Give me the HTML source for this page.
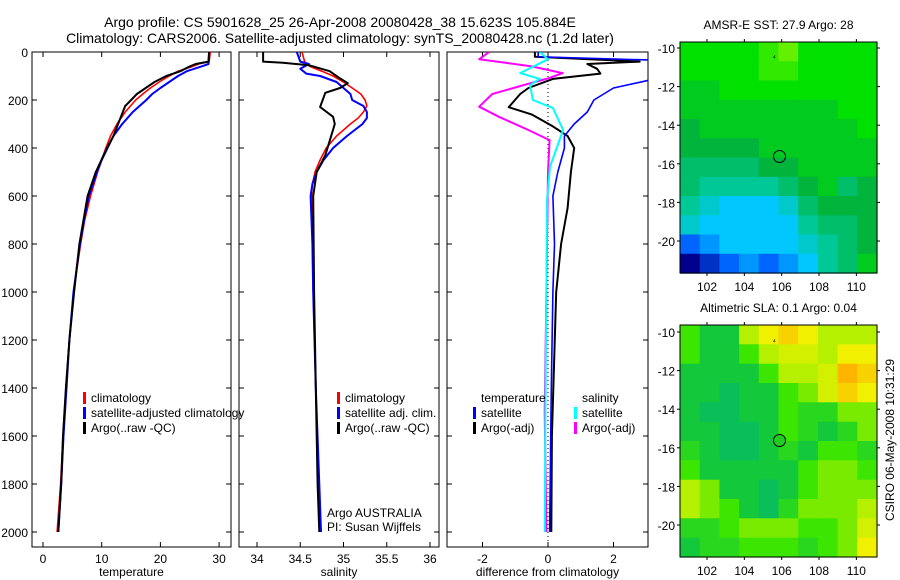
<!DOCTYPE html>
<html><head><meta charset="utf-8">
<style>
html,body{margin:0;padding:0;background:#fff;}
svg{display:block;font-family:"Liberation Sans",sans-serif;}
</style></head>
<body>
<svg id="fig" width="900" height="580" viewBox="0 0 900 580">
<text x="340" y="27" font-size="14" text-anchor="middle">Argo profile: CS 5901628_25 26-Apr-2008 20080428_38 15.623S 105.884E</text>
<text x="340" y="43" font-size="14" text-anchor="middle">Climatology: CARS2006. Satellite-adjusted climatology: synTS_20080428.nc (1.2d later)</text>
<g id="g"></g>
</svg>
<script>
// ---- data ----
const depthTicks=[0,200,400,600,800,1000,1200,1400,1600,1800,2000];
const tempTicks=[0,10,20,30];
const salTicks=[34,34.5,35,35.5,36];
const diffTicks=[-2,0,2];
const latTicks=[-10,-12,-14,-16,-18,-20];
const lonTicks=[102,104,106,108,110];

const tClimDepth=[0,40,50,60,80,100,125,150,175,200,250,300,350,400,450,500,600,700,800,1000,1200,1400,1600,1800,2000];
const tClim=[28.5,28.3,26.5,25.5,23,21.5,19.8,18.3,17.0,15.8,14,12.6,11.5,10.7,10,9.3,8.1,7.1,6.4,5.2,4.5,3.9,3.4,3.0,2.4];
const tSatDepth=[0,50,60,80,100,125,150,175,200,250,300,350,400,450,500,600,700,800,1000,1200,1400,1600,1800,2000];
const tSat=[28.3,28.2,27,24.5,23,21.5,20,18.6,17.6,15.3,13.5,12,11,10,9.2,7.8,7.0,6.3,5.2,4.5,4.0,3.5,3.1,2.6];
const tArgoDepth=[0,40,50,60,80,100,125,150,175,200,225,250,300,350,400,500,600,800,1000,1200,1400,1600,1800,2000];
const tArgo=[28.3,28.2,26,25,23.4,21,19,17.5,16,15,14,13.6,12.8,12,10.9,9.0,7.6,6.2,5.3,4.5,3.9,3.4,3.1,2.6];

const sClimDepth=[0,40,60,80,100,125,150,175,200,225,250,275,300,350,400,450,500,550,600,800,1000,1400,1800,2000];
const sClim=[34.52,34.55,34.61,34.75,34.88,35.0,35.1,35.2,35.25,35.27,35.23,35.17,35.08,34.92,34.8,34.73,34.67,34.64,34.63,34.64,34.65,34.68,34.71,34.72];
const sSatDepth=[0,40,50,70,90,100,125,150,175,200,225,250,275,300,350,400,450,500,550,600,800,1000,1400,1800,2000];
const sSat=[34.46,34.5,34.6,34.5,34.57,34.73,34.92,35.0,35.08,35.1,35.23,35.27,35.27,35.22,35.04,34.88,34.77,34.69,34.64,34.62,34.64,34.65,34.68,34.72,34.74];
const sArgoDepth=[0,40,45,55,80,110,130,150,170,229,270,300,370,430,500,600,1000,1400,1800,2000];
const sArgo=[34.07,34.07,34.3,34.6,34.84,34.96,35.05,34.96,34.79,34.73,34.88,34.9,34.84,34.79,34.69,34.65,34.66,34.68,34.7,34.72];

const dTSatDepth=[0,20,35,100,120,150,200,250,300,350,400,500,600,800,1000,1400,2000];
const dTSat=[-0.3,-0.3,3.5,3.5,3.0,2.0,1.4,1.2,0.8,0.5,0.5,0.3,0.15,0.2,0.15,0.1,0.05];
const dTArgoDepth=[0,20,40,50,70,90,112,150,175,230,260,310,350,400,500,650,800,1000,1600,2000];
const dTArgo=[-0.4,-0.4,2.8,1.2,1.5,1.6,0.15,-0.6,-0.85,-1.2,-0.5,0.15,0.6,0.8,0.7,0.6,0.4,0.25,0.12,0.1];
const dSSatDepth=[0,30,88,112,138,200,233,325,478,617,1000,1500,2000];
const dSSat=[-0.25,0,-0.85,-0.25,-0.55,-0.46,0.15,0.46,0.06,-0.03,-0.05,-0.08,-0.1];
const dSArgoDepth=[0,30,60,88,110,140,175,228,270,325,367,500,1000,1500,2000];
const dSArgo=[-1.8,-2.1,-0.5,0.45,0.0,-0.8,-1.7,-2.1,-1.5,-0.6,0.05,0.0,-0.05,-0.1,-0.05];

const sstGrid=[
[5,5,5,5,5.5,6,5,5,5,5],
[5,5,5,5,5.5,5.5,5,5,5,5],
[4.5,4.5,5,5,5,5,5,5,5,5],
[4.5,4.5,4.5,4.5,4.5,4.5,4.5,4.5,5,5],
[4,4.5,4.5,4.5,4.5,4.5,4.5,4.5,4.5,5],
[4,4,4,4,4.5,4.5,4.5,4.5,4.5,4.5],
[3.5,3.5,3.5,3.5,4,4,4.5,4.5,4.5,4.5],
[3.5,3,3,3,3,3.5,4,4.5,3.5,4],
[3,2.5,2,2,2,2.5,3.5,4,4,4],
[2.5,2,2,2,2,2,3,3.5,3.5,4],
[1,1.5,2,2,2,2,2.5,3,3.5,4],
[0,0.5,1,1.5,1,1.5,2,3,3.5,4.5]];
const slaGrid=[
[2,1,1,3,4,4.5,4,3,3,3],
[2,1,1,2,3,3.5,3.5,3,4,4],
[1,1,1,1,2,3,3,3.5,5,4.5],
[1,1,0.5,1,1,2,2.5,3.5,4.5,4],
[1,0.5,0.5,1,1,2,1.5,1.5,2.5,2.5],
[1,1,0.5,0.5,1,2,1.5,1,1.5,2.5],
[1.5,1,0.5,0.5,1,1.5,1,2,2,1.5],
[2,1,1,1,1,1,2,2.5,2.5,2],
[3,2.5,1,1,0.5,1,2,2.5,2.5,2.5],
[3,2.5,2,1,0.5,1.5,2.5,2.5,2.5,3],
[1.5,1.5,2,2.5,2.5,2.5,2,2,2.5,3.5],
[1,1.5,1.5,2,2,2,1.5,2,2.5,4]];
const argoLon=105.884, argoLat=-15.623;

// ---- helpers ----
const NS="http://www.w3.org/2000/svg";
const G=document.getElementById('g');
function el(tag,attrs,parent){const e=document.createElementNS(NS,tag);for(const k in attrs)e.setAttribute(k,attrs[k]);(parent||G).appendChild(e);return e;}
function txt(x,y,s,size,anchor,parent){const t=el('text',{x:x,y:y,'font-size':size,'text-anchor':anchor||'start'},parent);t.textContent=s;return t;}
const yD=d=>52+d*0.24;
function panel(x0,x1,xs,ticks,label,name,leftLabels){
  const g=el('g',{});
  
  
  el('rect',{x:x0,y:52,width:x1-x0,height:495,fill:'none',stroke:'#000','stroke-width':1},g);
  depthTicks.forEach(d=>{const y=yD(d);
    el('line',{x1:x0,x2:x0+5,y1:y,y2:y,stroke:'#000'},g);
    el('line',{x1:x1-5,x2:x1,y1:y,y2:y,stroke:'#000'},g);
    if(leftLabels){const t=txt(x0-4,y+5,String(d),12,'end',g);
      }
  });
  ticks.forEach(v=>{const x=xs(v);
    el('line',{x1:x,x2:x,y1:547,y2:542,stroke:'#000'},g);
    el('line',{x1:x,x2:x,y1:52,y2:57,stroke:'#000'},g);
    const t=txt(x,563,String(v),12,'middle',g);
    
  });
  const l=txt((x0+x1)/2,576,label,12,'middle',g);
  
  return g;
}
function line(xs,vals,depths,color,w,name,x0,x1){
  const cp=el('clipPath',{id:'c'+name});
  el('rect',{x:x0,y:52,width:x1-x0,height:495},cp);
  const p=vals.map((v,i)=>xs(v).toFixed(1)+','+yD(depths[i]).toFixed(1)).join(' ');
  const pl=el('polyline',{points:p,fill:'none',stroke:color,'stroke-width':w,'stroke-linejoin':'round','clip-path':'url(#c'+name+')'});
  
  
}
function legendItem(x,y,color,label,name){
  const g=el('g',{});
  
  
  if(color) el('rect',{x:x,y:y-10,width:3,height:12,fill:color},g);
  txt(x+8,y,label,12,'start',g);
}

// panel 1 temperature
const xT=v=>43+v*5.87;
panel(32,231,xT,tempTicks,'temperature','temperature-panel',true);
line(xT,tClim,tClimDepth,'#f00',1.6,'temp-climatology-line',32,231);
line(xT,tSat,tSatDepth,'#00f',2,'temp-satellite-line',32,231);
line(xT,tArgo,tArgoDepth,'#000',2,'temp-argo-line',32,231);
legendItem(83,402,'#f00','climatology','legend-climatology');
legendItem(83,417,'#00f','satellite-adjusted climatology','legend-satellite-adjusted');
legendItem(83,432,'#000','Argo(..raw -QC)','legend-argo');

// panel 2 salinity
const xS=v=>257+(v-34)*86.5;
panel(239,439,xS,salTicks,'salinity','salinity-panel',false);
line(xS,sClim,sClimDepth,'#f00',1.6,'sal-climatology-line',239,439);
line(xS,sSat,sSatDepth,'#00f',2,'sal-satellite-line',239,439);
line(xS,sArgo,sArgoDepth,'#000',2,'sal-argo-line',239,439);
legendItem(337,402,'#f00','climatology','legend-sal-climatology');
legendItem(337,417,'#00f','satellite adj. clim.','legend-sal-satellite');
legendItem(337,432,'#000','Argo(..raw -QC)','legend-sal-argo');
let t1=txt(327,517,'Argo AUSTRALIA',12);
let t2=txt(327,531,'PI: Susan Wijffels',12);

// panel 3 difference
const xDf=v=>548+v*32.75;
panel(447,648,xDf,diffTicks,'difference from climatology','difference-panel',false);
const zl=el('line',{x1:548,x2:548,y1:52,y2:547,stroke:'#000','stroke-dasharray':'1,3'});

line(xDf,dTArgo,dTArgoDepth,'#000',2,'diff-temp-argo-line',447,648);
line(xDf,dTSat,dTSatDepth,'#00f',1.6,'diff-temp-satellite-line',447,648);
line(xDf,dSArgo,dSArgoDepth,'#f0f',2,'diff-sal-argo-line',447,648);
line(xDf,dSSat,dSSatDepth,'#0ff',2,'diff-sal-satellite-line',447,648);
legendItem(473,402,null,'temperature','legend-temperature-header');
legendItem(473,417,'#00f','satellite','legend-diff-temp-satellite');
legendItem(473,432,'#000','Argo(-adj)','legend-diff-temp-argo');
legendItem(574,402,null,'salinity','legend-salinity-header');
legendItem(574,417,'#0ff','satellite','legend-diff-sal-satellite');
legendItem(574,432,'#f0f','Argo(-adj)','legend-diff-sal-argo');

// maps
const sstStops=[[0,0,140],[0,100,255],[0,200,255],[0,200,150],[0,180,60],[0,225,0],[100,240,0]];
const slaStops=[[0,180,120],[20,200,60],[60,230,0],[180,240,0],[240,240,0],[255,180,0],[210,80,0]];
function cmap(stops,v){const i=Math.max(0,Math.min(stops.length-1.001,v));const a=Math.floor(i),f=i-a;
  const c=stops[a].map((s,k)=>Math.round(s+(stops[a+1][k]-s)*f));return 'rgb('+c.join(',')+')';}
function map(y0,y1,latRef,grid,stops,title,name,filledCircle){
  const x0=680,x1=877;
  const g=el('g',{});
  
  
  const lonX=v=>707+(v-102)*18.67;
  const latY=v=>latRef+(-10-v)*19.3;
  const rows=grid.length,cols=grid[0].length;
  const cw=(x1-x0)/cols,ch=(y1-y0)/rows;
  grid.forEach((row,r)=>row.forEach((v,c)=>{
    const cell=el('rect',{x:(x0+c*cw).toFixed(1),y:(y0+r*ch).toFixed(1),width:(cw+0.6).toFixed(1),height:(ch+0.6).toFixed(1),fill:cmap(stops,v)},g);
    
    
  }));
  el('rect',{x:x0,y:y0,width:x1-x0,height:y1-y0,fill:'none',stroke:'#000'},g);
  latTicks.forEach(v=>{const y=latY(v);
    el('line',{x1:x0-3,x2:x0,y1:y,y2:y,stroke:'#000'},g);
    el('line',{x1:x1,x2:x1+3,y1:y,y2:y,stroke:'#000'},g);
    txt(x0-5,y+5,String(v),12,'end',g);});
  lonTicks.forEach(v=>{const x=lonX(v);
    el('line',{x1:x,x2:x,y1:y0-3,y2:y0,stroke:'#000'},g);
    el('line',{x1:x,x2:x,y1:y1,y2:y1+3,stroke:'#000'},g);
    txt(x,y1+18,String(v),12,'middle',g);});
  txt((x0+x1)/2,y0-13,title,12,'middle',g);
  const m=el('circle',{cx:lonX(argoLon),cy:latY(argoLat),r:6,fill:filledCircle?'#2c2':'none',stroke:'#000'},g);
  
  
  txt(lonX(105.6),latY(-10.5)+3,'⁴',8,'middle',g);
}
map(42,273,48,sstGrid,sstStops,'AMSR-E SST: 27.9 Argo: 28','sst-map',false);
map(325,557,332,slaGrid,slaStops,'Altimetric SLA: 0.1 Argo: 0.04','sla-map',true);
const ts=txt(0,0,'CSIRO 06-May-2008 10:31:29',12,'middle');
ts.setAttribute('transform','translate(894,440) rotate(-90)');


</script>
</body></html>
